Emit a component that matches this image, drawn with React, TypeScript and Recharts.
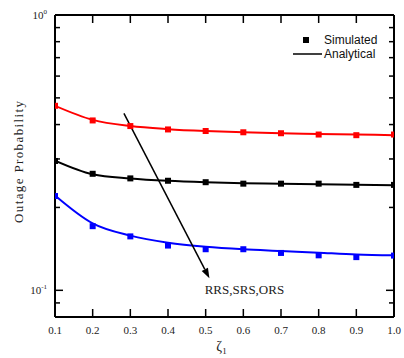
import React from 'react';
import { LineChart, Line, XAxis, YAxis, ReferenceLine, ReferenceDot } from 'recharts';

const xValues = [0.1, 0.2, 0.3, 0.4, 0.5, 0.6, 0.7, 0.8, 0.9, 1.0];
const redSim = [0.468, 0.414, 0.395, 0.384, 0.379, 0.375, 0.372, 0.368, 0.366, 0.368];
const redAna = [0.468, 0.416, 0.395, 0.385, 0.379, 0.375, 0.372, 0.37, 0.368, 0.366];
const blackSim = [0.295, 0.265, 0.255, 0.25, 0.247, 0.244, 0.244, 0.244, 0.2415, 0.2415];
const blackAna = [0.296, 0.264, 0.255, 0.25, 0.247, 0.245, 0.244, 0.243, 0.242, 0.241];
const blueSim = [0.22, 0.171, 0.157, 0.1454, 0.141, 0.141, 0.1367, 0.134, 0.132, 0.1337];
const blueAna = [0.221, 0.175, 0.158, 0.149, 0.144, 0.141, 0.139, 0.137, 0.135, 0.134];

const xTicks = [0.1, 0.2, 0.3, 0.4, 0.5, 0.6, 0.7, 0.8, 0.9, 1.0];
const xTickLabels = ['0.1', '0.2', '0.3', '0.4', '0.5', '0.6', '0.7', '0.8', '0.9', '1.0'];
const yTicks = [0.09, 0.1, 0.2, 0.3, 0.4, 0.5, 0.6, 0.7, 0.8, 0.9, 1];
const yMajor: Record<string, string> = { '0.1': '-1', '1': '0' };
const arrowStart = { x: 0.283, y: 0.439 };
const arrowEnd = { x: 0.51, y: 0.1106 };
const annotation = { x: 0.5, y: 0.1, text: 'RRS,SRS,ORS' };

const data = xValues.map((x, i) => ({
  x,
  redSim: redSim[i],
  redAna: redAna[i],
  blackSim: blackSim[i],
  blackAna: blackAna[i],
  blueSim: blueSim[i],
  blueAna: blueAna[i],
}));

const serif = 'Liberation Serif, Times New Roman, serif';
const sans = 'Liberation Sans, Arial, sans-serif';

const LeftTick = (p: any) => {
  const v = p.payload.value;
  const sup = yMajor[String(v)];
  const len = sup !== undefined ? 8 : 5;
  return (
    <g>
      {v !== 1 && <line x1={p.x} y1={p.y} x2={p.x + len} y2={p.y} stroke="#000" strokeWidth={1.5} />}
      {sup !== undefined && (
        <text x={p.x - 8} y={p.y + 4} textAnchor="end" fontFamily={serif} fontSize={11} fill="#222">
          10
          <tspan dy={-5} fontSize={7}>{sup}</tspan>
        </text>
      )}
    </g>
  );
};

const RightTick = (p: any) => {
  const v = p.payload.value;
  const len = yMajor[String(v)] !== undefined ? 8 : 5;
  if (v === 1) return <g />;
  return <line x1={p.x} y1={p.y} x2={p.x - len} y2={p.y} stroke="#000" strokeWidth={1.5} />;
};

const BottomTick = (p: any) => {
  const v = p.payload.value;
  const idx = xTicks.indexOf(v);
  const edge = idx === 0 || idx === xTicks.length - 1;
  return (
    <g>
      {!edge && <line x1={p.x} y1={p.y} x2={p.x} y2={p.y - 8} stroke="#000" strokeWidth={1.5} />}
      <text x={p.x} y={p.y + 17} textAnchor="middle" fontFamily={serif} fontSize={11} fill="#222">
        {xTickLabels[idx]}
      </text>
    </g>
  );
};

const TopTick = (p: any) => {
  const v = p.payload.value;
  const idx = xTicks.indexOf(v);
  const edge = idx === 0 || idx === xTicks.length - 1;
  if (edge) return <g />;
  return <line x1={p.x} y1={p.y} x2={p.x} y2={p.y + 8} stroke="#000" strokeWidth={1.5} />;
};

const squareDot = (color: string) => (p: any) => (
  <rect key={`${color}-${p.index}`} x={p.cx - 3} y={p.cy - 3} width={6} height={6} fill={color} />
);

const ArrowShape = (p: any) => {
  const { x1, y1, x2, y2 } = p;
  if ([x1, y1, x2, y2].some((v) => typeof v !== 'number' || isNaN(v))) return <g />;
  const dx = x2 - x1;
  const dy = y2 - y1;
  const L = Math.sqrt(dx * dx + dy * dy);
  const ux = dx / L;
  const uy = dy / L;
  const hl = 10;
  const hw = 3.5;
  const bx = x2 - ux * hl;
  const by = y2 - uy * hl;
  const pts = `${x2},${y2} ${bx - uy * hw},${by + ux * hw} ${bx + uy * hw},${by - ux * hw}`;
  return (
    <g>
      <line x1={x1} y1={y1} x2={bx} y2={by} stroke="#000" strokeWidth={1.5} />
      <polygon points={pts} fill="#000" />
    </g>
  );
};

const AnnotationShape = (p: any) => (
  <text x={p.cx - 1} y={p.cy + 4} fontFamily={serif} fontSize={13} fill="#222">
    {annotation.text}
  </text>
);

export default function App() {
  return (
    <div style={{ position: 'absolute', left: 0, top: 0, width: 404, height: 358, background: '#fff' }}>
      <LineChart
        width={404}
        height={358}
        data={data}
        margin={{ top: 14, right: 9, bottom: 11, left: 10 }}
      >
        <XAxis
          xAxisId="bottom"
          dataKey="x"
          type="number"
          domain={[0.1, 1.0]}
          ticks={xTicks}
          height={30}
          tickSize={0}
          tickMargin={0}
          tickLine={false}
          axisLine={{ stroke: '#000', strokeWidth: 2 }}
          tick={<BottomTick />}
          interval={0}
          allowDataOverflow
          label={{
            content: (lp: any) => {
              const vb = lp.viewBox;
              return (
                <text x={vb.x + vb.width / 2 - 3} y={351} textAnchor="middle" fontFamily={serif} fontSize={14} fill="#222">
                  ζ<tspan dy={3} fontSize={9}>1</tspan>
                </text>
              );
            },
          }}
        />
        <XAxis
          xAxisId="top"
          dataKey="x"
          type="number"
          orientation="top"
          domain={[0.1, 1.0]}
          ticks={xTicks}
          height={1}
          tickSize={0}
          tickMargin={0}
          tickLine={false}
          axisLine={{ stroke: '#000', strokeWidth: 2 }}
          tick={<TopTick />}
          interval={0}
          allowDataOverflow
        />
        <YAxis
          yAxisId="left"
          type="number"
          scale="log"
          domain={[0.08, 1]}
          ticks={yTicks}
          width={45}
          tickSize={0}
          tickMargin={0}
          tickLine={false}
          axisLine={{ stroke: '#000', strokeWidth: 2 }}
          tick={<LeftTick />}
          interval={0}
          allowDataOverflow
          label={{
            content: (lp: any) => (
              <text
                x={18}
                y={162}
                transform="rotate(-90 18 162)"
                textAnchor="middle"
                dominantBaseline="central"
                fontFamily={serif}
                fontSize={13}
                fill="#222"
                textLength={122}
                lengthAdjust="spacing"
              >
                Outage Probability
              </text>
            ),
          }}
        />
        <YAxis
          yAxisId="right"
          orientation="right"
          type="number"
          scale="log"
          domain={[0.08, 1]}
          ticks={yTicks}
          width={1}
          tickSize={0}
          tickMargin={0}
          tickLine={false}
          axisLine={{ stroke: '#000', strokeWidth: 2 }}
          tick={<RightTick />}
          interval={0}
          allowDataOverflow
        />
        <Line xAxisId="bottom" yAxisId="left" type="monotone" dataKey="redAna" stroke="#ff0000" strokeWidth={2} dot={false} activeDot={false} isAnimationActive={false} />
        <Line xAxisId="bottom" yAxisId="left" type="monotone" dataKey="blackAna" stroke="#000000" strokeWidth={2} dot={false} activeDot={false} isAnimationActive={false} />
        <Line xAxisId="bottom" yAxisId="left" type="monotone" dataKey="blueAna" stroke="#0000ff" strokeWidth={2} dot={false} activeDot={false} isAnimationActive={false} />
        <Line xAxisId="bottom" yAxisId="left" dataKey="redSim" stroke="none" dot={squareDot('#ff0000')} activeDot={false} isAnimationActive={false} />
        <Line xAxisId="bottom" yAxisId="left" dataKey="blackSim" stroke="none" dot={squareDot('#000000')} activeDot={false} isAnimationActive={false} />
        <Line xAxisId="bottom" yAxisId="left" dataKey="blueSim" stroke="none" dot={squareDot('#0000ff')} activeDot={false} isAnimationActive={false} />
        <ReferenceLine
          xAxisId="bottom"
          yAxisId="left"
          segment={[arrowStart, arrowEnd]}
          shape={ArrowShape}
          ifOverflow="visible"
        />
        <ReferenceDot
          xAxisId="bottom"
          yAxisId="left"
          x={annotation.x}
          y={annotation.y}
          r={0}
          shape={AnnotationShape}
          ifOverflow="visible"
        />
      </LineChart>
      <div style={{ position: 'absolute', left: 288, top: 30, width: 100, height: 32 }}>
        <svg width={100} height={32}>
          <rect x={15} y={7} width={6} height={6} fill="#000" />
          <text x={36} y={14} fontFamily={sans} fontSize={12} fill="#111">Simulated</text>
          <line x1={5} y1={24} x2={34} y2={24} stroke="#000" strokeWidth={1.5} />
          <text x={36} y={28} fontFamily={sans} fontSize={12} fill="#111">Analytical</text>
        </svg>
      </div>
    </div>
  );
}
